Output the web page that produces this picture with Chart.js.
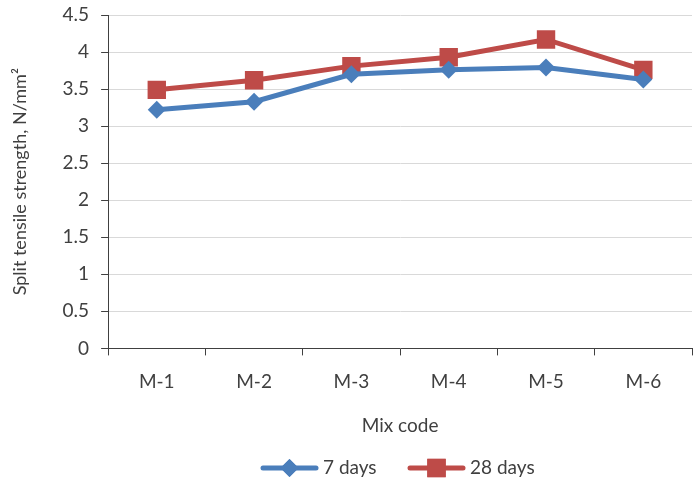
<!DOCTYPE html>
<html>
<head>
<meta charset="utf-8">
<script src="https://cdn.jsdelivr.net/npm/chart.js@4/dist/chart.umd.min.js"></script>
<style>
  html, body { margin: 0; padding: 0; background: #fff; }
  #box { width: 693px; height: 484px; }
</style>
</head>
<body>
<div id="box"><canvas id="splitChart"></canvas></div>
<script>
var mixCodes = ["M-1", "M-2", "M-3", "M-4", "M-5", "M-6"];
var days7 = [3.22, 3.33, 3.70, 3.76, 3.79, 3.63];
var days28 = [3.49, 3.62, 3.81, 3.93, 4.17, 3.76];
var seriesNames = ["7 days", "28 days"];
var lineColors = ["#4a7ebb", "#be4b48"];

var textColor = "#404040";
var fontName = "Lato, 'Open Sans', sans-serif";

// legend drawn by hand: line + marker + text, like the office chart
var lineLegend = {
  id: "lineLegend",
  afterDraw: function(chart) {
    var ctx = chart.ctx;
    var y = chart.height - 16;
    var items = [
      { x: 263, style: "rectRot", r: 9, idx: 0 },
      { x: 410, style: "rect", r: 13, idx: 1 }
    ];
    ctx.save();
    items.forEach(function(it) {
      ctx.strokeStyle = lineColors[it.idx];
      ctx.lineWidth = 5;
      ctx.lineCap = "round";
      ctx.beginPath();
      ctx.moveTo(it.x, y);
      ctx.lineTo(it.x + 53, y);
      ctx.stroke();
      ctx.fillStyle = lineColors[it.idx];
      Chart.helpers.drawPoint(ctx, { pointStyle: it.style, radius: it.r, borderWidth: 0 }, it.x + 26.5, y);
      ctx.fill();
      ctx.fillStyle = textColor;
      ctx.font = "19px " + fontName;
      ctx.textBaseline = "middle";
      ctx.fillText(seriesNames[it.idx], it.x + 60, y);
    });
    ctx.restore();
  }
};

new Chart("splitChart", {
  type: "line",
  data: {
    labels: mixCodes,
    datasets: [{
      label: seriesNames[0],
      data: days7,
      borderColor: lineColors[0],
      backgroundColor: lineColors[0],
      borderWidth: 5,
      pointStyle: "rectRot",
      pointRadius: 9,
      pointHoverRadius: 9,
      pointBorderWidth: 0,
      tension: 0
    }, {
      label: seriesNames[1],
      data: days28,
      borderColor: lineColors[1],
      backgroundColor: lineColors[1],
      borderWidth: 5,
      pointStyle: "rect",
      pointRadius: 13,
      pointHoverRadius: 13,
      pointBorderWidth: 0,
      tension: 0
    }]
  },
  options: {
    responsive: true,
    maintainAspectRatio: false,
    animation: false,
    layout: {
      autoPadding: false,
      padding: { top: 0, right: 1, bottom: 47, left: 9 }
    },
    plugins: {
      legend: { display: false },
      tooltip: { enabled: false }
    },
    scales: {
      x: {
        offset: true,
        grid: {
          offset: true,
          drawOnChartArea: false,
          tickLength: 7,
          tickColor: "#404040"
        },
        border: { color: "#404040", width: 1 },
        ticks: {
          color: textColor,
          font: { family: fontName, size: 19 },
          padding: 15
        },
        title: {
          display: true,
          text: "Mix code",
          color: textColor,
          font: { family: fontName, size: 19 },
          padding: { top: 6, bottom: 0 }
        }
      },
      y: {
        min: 0,
        max: 4.5,
        // tick padding would push the top gridline down, keep it at 15px
        afterFit: function(scale) {
          scale.paddingTop = 15;
          scale.paddingBottom = 10;
        },
        ticks: {
          stepSize: 0.5,
          color: textColor,
          font: { family: fontName, size: 19 },
          padding: 12,
          callback: function(v) { return v; }
        },
        grid: {
          color: "#d9d9d9",
          tickColor: "#404040",
          tickLength: 7
        },
        border: { color: "#404040", width: 1 },
        title: {
          display: true,
          text: "Split tensile strength, N/mm²",
          color: textColor,
          font: { family: fontName, size: 18 },
          padding: { top: 0, bottom: 20 }
        }
      }
    }
  },
  plugins: [lineLegend]
});
</script>
</body>
</html>
